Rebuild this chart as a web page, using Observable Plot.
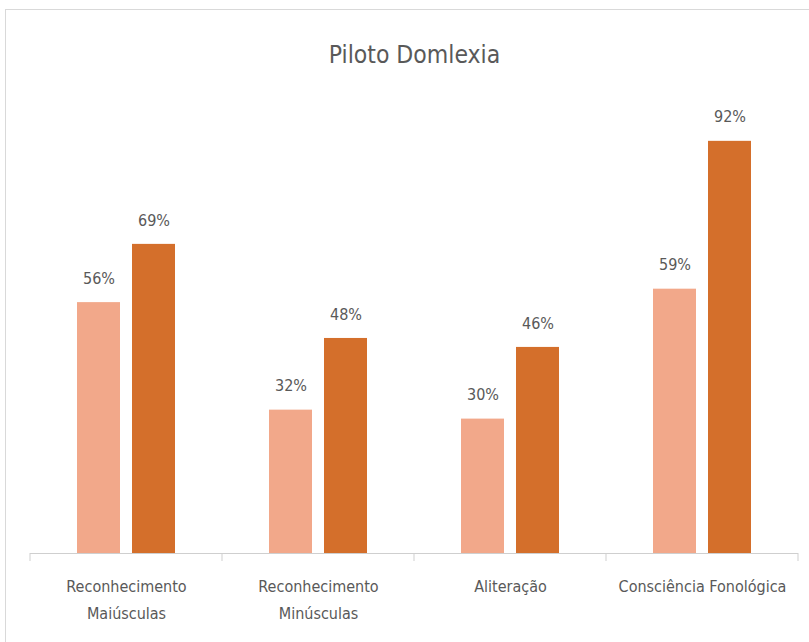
<!DOCTYPE html>
<html>
<head>
<meta charset="utf-8">
<script src="https://cdn.jsdelivr.net/npm/d3@7"></script>
<script src="https://cdn.jsdelivr.net/npm/@observablehq/plot@0.6"></script>
<style>
  html, body { margin: 0; padding: 0; background: #fff; overflow: hidden; }
  #wrap { position: relative; width: 809px; height: 642px; }
  #frame { position: absolute; left: 5px; top: 9px; width: 900px; height: 700px; border: 1px solid #d9d9d9; box-sizing: border-box; }
  #title { position: absolute; left: 0; width: 829px; top: 40px; text-align: center; font-family: "Liberation Sans Narrow", "DejaVu Sans Condensed", sans-serif; font-size: 24.5px; color: #595959; }
  #chart { position: absolute; left: 0; top: 0; }
</style>
</head>
<body>
<div id="wrap">
  <div id="frame"></div>
  <div id="title">Piloto Domlexia</div>
  <div id="chart"></div>
</div>
<script>
const categories = ["Reconhecimento\nMaiúsculas", "Reconhecimento\nMinúsculas", "Aliteração", "Consciência Fonológica"];
const series = ["Avaliação inicial", "Avaliação final"];
const valuesInicial = [0.56, 0.32, 0.30, 0.59];
const valuesFinal = [0.69, 0.48, 0.46, 0.92];

const data = [];
categories.forEach((c, i) => {
  data.push({cat: c, series: series[0], value: valuesInicial[i]});
  data.push({cat: c, series: series[1], value: valuesFinal[i]});
});

const font = '"Liberation Sans Narrow", "DejaVu Sans Condensed", sans-serif';

const plot = Plot.plot({
  width: 809,
  height: 642,
  marginTop: 105,
  marginBottom: 89,
  marginLeft: 28,
  marginRight: 10,
  style: {fontFamily: font, fontSize: "16px", color: "#595959", background: "transparent"},
  fx: {domain: categories, padding: 0, label: null},
  x: {domain: series, paddingInner: 0.21, paddingOuter: 0.84, axis: null},
  y: {domain: [0, 1], axis: null},
  color: {domain: series, range: ["#F2A88A", "#D46F2B"]},
  marks: [
    Plot.barY(data, {fx: "cat", x: "series", y: "value", fill: "series"}),
    Plot.text(data, {fx: "cat", x: "series", y: "value", text: d => Math.round(d.value * 100) + "%", dy: -24, fill: "#595959", fontSize: 16}),
    Plot.ruleY([0], {stroke: "#cfcfcf", strokeWidth: 1}),
    Plot.axisFx({anchor: "bottom", tickSize: 0, tickPadding: 19, lineHeight: 1.7, fontSize: 16, fill: "#595959", label: null})
  ]
});
document.getElementById("chart").appendChild(plot);

// category boundary ticks using the fx scale
const fx = plot.scale("fx");
const y = plot.scale("y");
const y0 = y.apply(0);
const svg = d3.select(plot.tagName === "svg" ? plot : plot.querySelector("svg"));
const edges = fx.domain.map(d => fx.apply(d)).concat([fx.apply(fx.domain[fx.domain.length - 1]) + fx.bandwidth]);
svg.append("g").selectAll("line").data(edges).join("line")
  .attr("x1", d => d).attr("x2", d => d)
  .attr("y1", y0).attr("y2", y0 + 8)
  .attr("stroke", "#cfcfcf").attr("stroke-width", 1);
</script>
</body>
</html>
